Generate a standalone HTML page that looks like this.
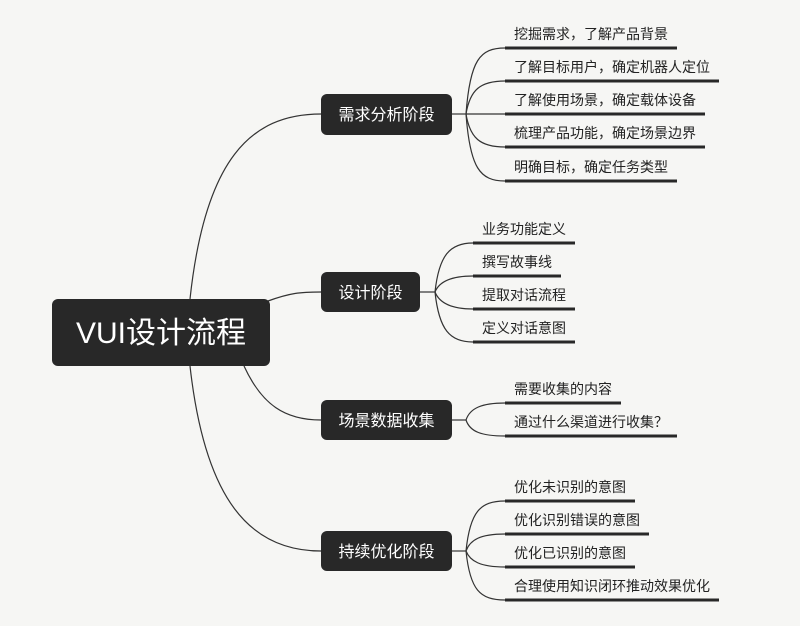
<!DOCTYPE html>
<html><head><meta charset="utf-8"><style>
html,body{margin:0;padding:0;background:#f6f6f4;}
svg{display:block;}
text{font-family:"Liberation Sans","Noto Sans CJK SC",sans-serif;}
</style></head><body>
<svg width="800" height="626" viewBox="0 0 800 626" xmlns="http://www.w3.org/2000/svg">
<rect width="800" height="626" fill="#f6f6f4"/>
<g fill="none" stroke="#333" stroke-width="1.2">
<path d="M190,299 C205,160 250,114 321,114"/>
<path d="M268,301 C290,293 300,292 321,292"/>
<path d="M244,366 C262,405 285,420 321,420"/>
<path d="M190,366 C205,500 250,551 321,551"/>
<!-- 需求 -->
<path d="M452,114 H466"/>
<path d="M466,114 C470,60 480,48 505,48"/>
<path d="M466,114 C470,90 480,81 505,81"/>
<path d="M466,114 H505"/>
<path d="M466,114 C470,138 480,147 505,147"/>
<path d="M466,114 C470,168 480,181 505,181"/>
<!-- 设计 -->
<path d="M420,292 H435"/>
<path d="M435,292 C439,255 450,243 473,243"/>
<path d="M435,292 C439,282 450,276 473,276"/>
<path d="M435,292 C439,302 450,309 473,309"/>
<path d="M435,292 C439,330 450,342 473,342"/>
<!-- 场景 -->
<path d="M452,420 H466"/>
<path d="M466,420 C470,408 482,403 505,403"/>
<path d="M466,420 C470,432 482,436 505,436"/>
<!-- 持续 -->
<path d="M452,551 H466"/>
<path d="M466,551 C470,512 480,501 505,501"/>
<path d="M466,551 C470,540 480,534 505,534"/>
<path d="M466,551 C470,561 480,567 505,567"/>
<path d="M466,551 C470,590 480,600 505,600"/>
</g>
<g stroke="#282828" stroke-width="3">
<path d="M505,48 H677 M505,81 H719 M505,114 H705 M505,147 H705 M505,181 H677"/>
<path d="M473,243 H575 M473,276 H561 M473,309 H575 M473,342 H575"/>
<path d="M505,403 H621 M505,436 H677"/>
<path d="M505,501 H635 M505,534 H649 M505,567 H635 M505,600 H719"/>
</g>
<g fill="#282828">
<rect x="52" y="299" width="218" height="67" rx="6"/>
<rect x="321" y="94" width="131" height="41" rx="6"/>
<rect x="321" y="272" width="99" height="40" rx="6"/>
<rect x="321" y="400" width="131" height="40" rx="6"/>
<rect x="321" y="531" width="131" height="40" rx="6"/>
</g>
<g fill="#fff">
<text x="161" y="343" font-size="30" text-anchor="middle">VUI设计流程</text>
<text x="386.5" y="120" font-size="16" text-anchor="middle">需求分析阶段</text>
<text x="370.5" y="298" font-size="16" text-anchor="middle">设计阶段</text>
<text x="386.5" y="426" font-size="16" text-anchor="middle">场景数据收集</text>
<text x="386.5" y="557" font-size="16" text-anchor="middle">持续优化阶段</text>
</g>
<g fill="#222" font-size="14">
<text x="514" y="39">挖掘需求，了解产品背景</text>
<text x="514" y="72">了解目标用户，确定机器人定位</text>
<text x="514" y="105">了解使用场景，确定载体设备</text>
<text x="514" y="138">梳理产品功能，确定场景边界</text>
<text x="514" y="172">明确目标，确定任务类型</text>
<text x="482" y="234">业务功能定义</text>
<text x="482" y="267">撰写故事线</text>
<text x="482" y="300">提取对话流程</text>
<text x="482" y="333">定义对话意图</text>
<text x="514" y="394">需要收集的内容</text>
<text x="514" y="427">通过什么渠道进行收集？</text>
<text x="514" y="492">优化未识别的意图</text>
<text x="514" y="525">优化识别错误的意图</text>
<text x="514" y="558">优化已识别的意图</text>
<text x="514" y="591">合理使用知识闭环推动效果优化</text>
</g>
</svg>
</body></html>
